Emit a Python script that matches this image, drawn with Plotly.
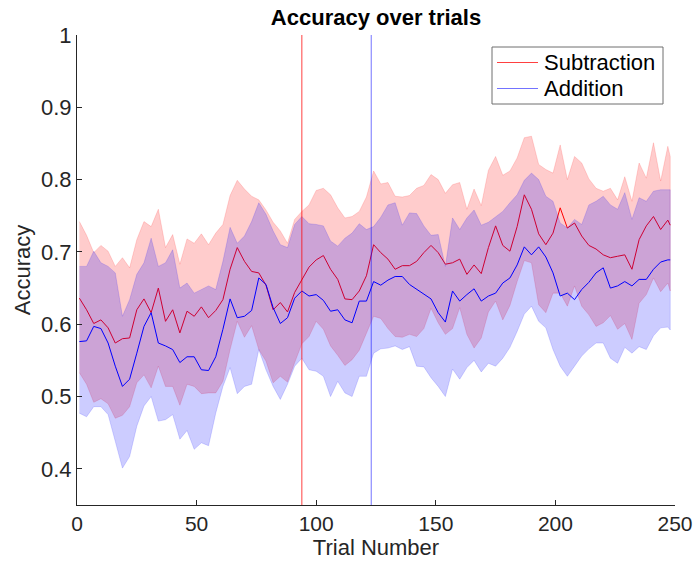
import plotly.graph_objects as go

trials = [1, 4, 7, 10, 13, 16, 19, 22, 25, 28, 31, 34, 37, 40, 43, 46, 49, 52, 55, 58, 61,
          64, 67, 70, 73, 76, 79, 82, 85, 88, 91, 94, 97, 100, 103, 106, 109, 112, 115, 118, 121, 124,
          127, 130, 133, 136, 139, 142, 145, 148, 151, 154, 157, 160, 163, 166, 169, 172, 175, 178, 181, 184, 187,
          190, 193, 196, 199, 202, 205, 208, 211, 214, 217, 220, 223, 226, 229, 232, 235, 238, 241, 244, 247, 248]

sub_upper = [0.742, 0.723, 0.699, 0.709, 0.701, 0.680, 0.692, 0.678, 0.717, 0.742, 0.735, 0.759, 0.706, 0.724, 0.683, 0.718, 0.712, 0.725, 0.710, 0.726, 0.738,
             0.778, 0.799, 0.787, 0.777, 0.772, 0.758, 0.741, 0.729, 0.712, 0.745, 0.756, 0.765, 0.785, 0.788, 0.779, 0.761, 0.747, 0.749, 0.756, 0.776, 0.812,
             0.794, 0.796, 0.777, 0.776, 0.778, 0.788, 0.792, 0.807, 0.800, 0.781, 0.793, 0.796, 0.759, 0.787, 0.764, 0.813, 0.832, 0.806, 0.812, 0.830, 0.858,
             0.860, 0.821, 0.814, 0.809, 0.848, 0.800, 0.832, 0.823, 0.801, 0.788, 0.784, 0.788, 0.772, 0.804, 0.770, 0.823, 0.802, 0.851, 0.798, 0.846, 0.832]
sub_mean = [0.636, 0.620, 0.601, 0.606, 0.595, 0.574, 0.580, 0.581, 0.620, 0.635, 0.616, 0.650, 0.604, 0.620, 0.588, 0.618, 0.611, 0.624, 0.609, 0.619, 0.634,
            0.676, 0.706, 0.687, 0.673, 0.671, 0.654, 0.620, 0.630, 0.617, 0.644, 0.662, 0.679, 0.689, 0.695, 0.676, 0.662, 0.635, 0.634, 0.646, 0.667, 0.710,
            0.699, 0.690, 0.676, 0.681, 0.681, 0.687, 0.699, 0.709, 0.699, 0.683, 0.685, 0.690, 0.669, 0.682, 0.670, 0.706, 0.736, 0.709, 0.701, 0.735, 0.779,
            0.759, 0.725, 0.710, 0.726, 0.761, 0.733, 0.740, 0.722, 0.709, 0.704, 0.696, 0.692, 0.694, 0.696, 0.676, 0.717, 0.736, 0.749, 0.731, 0.744, 0.737]
sub_lower = [0.533, 0.517, 0.492, 0.497, 0.490, 0.470, 0.474, 0.486, 0.519, 0.530, 0.512, 0.542, 0.514, 0.514, 0.488, 0.517, 0.514, 0.504, 0.505, 0.505, 0.521,
             0.565, 0.604, 0.582, 0.598, 0.565, 0.549, 0.519, 0.528, 0.520, 0.547, 0.573, 0.583, 0.604, 0.593, 0.570, 0.557, 0.543, 0.551, 0.564, 0.588, 0.611,
             0.608, 0.594, 0.583, 0.582, 0.586, 0.583, 0.594, 0.622, 0.602, 0.586, 0.594, 0.623, 0.586, 0.567, 0.581, 0.617, 0.632, 0.606, 0.626, 0.659, 0.688,
             0.685, 0.627, 0.616, 0.643, 0.643, 0.625, 0.653, 0.625, 0.613, 0.597, 0.602, 0.612, 0.593, 0.601, 0.579, 0.629, 0.641, 0.664, 0.645, 0.657, 0.646]

add_upper = [0.680, 0.680, 0.701, 0.685, 0.680, 0.671, 0.611, 0.634, 0.669, 0.685, 0.719, 0.680, 0.685, 0.703, 0.650, 0.657, 0.643, 0.648, 0.653, 0.648, 0.687,
             0.734, 0.712, 0.722, 0.742, 0.768, 0.752, 0.729, 0.710, 0.706, 0.738, 0.749, 0.739, 0.738, 0.736, 0.715, 0.708, 0.719, 0.726, 0.739, 0.731, 0.735,
             0.748, 0.765, 0.768, 0.737, 0.754, 0.753, 0.736, 0.723, 0.724, 0.680, 0.747, 0.731, 0.747, 0.758, 0.737, 0.741, 0.749, 0.756, 0.768, 0.779, 0.799,
             0.809, 0.800, 0.777, 0.770, 0.740, 0.733, 0.745, 0.738, 0.765, 0.770, 0.777, 0.765, 0.759, 0.782, 0.745, 0.775, 0.770, 0.784, 0.786, 0.786, 0.786]
add_mean = [0.576, 0.577, 0.597, 0.594, 0.574, 0.542, 0.514, 0.524, 0.560, 0.597, 0.616, 0.574, 0.570, 0.565, 0.547, 0.555, 0.555, 0.537, 0.536, 0.555, 0.593,
            0.635, 0.609, 0.611, 0.619, 0.664, 0.655, 0.623, 0.601, 0.609, 0.636, 0.646, 0.639, 0.641, 0.633, 0.618, 0.620, 0.606, 0.602, 0.632, 0.632, 0.659,
            0.654, 0.661, 0.666, 0.666, 0.655, 0.648, 0.641, 0.635, 0.616, 0.603, 0.646, 0.632, 0.641, 0.649, 0.632, 0.639, 0.643, 0.657, 0.664, 0.682, 0.707,
            0.696, 0.707, 0.693, 0.671, 0.639, 0.643, 0.634, 0.648, 0.658, 0.671, 0.678, 0.650, 0.653, 0.659, 0.653, 0.662, 0.662, 0.676, 0.686, 0.689, 0.689]
add_lower = [0.477, 0.472, 0.486, 0.486, 0.475, 0.438, 0.401, 0.417, 0.459, 0.487, 0.500, 0.466, 0.468, 0.475, 0.441, 0.453, 0.427, 0.436, 0.432, 0.477, 0.514,
             0.540, 0.504, 0.514, 0.517, 0.565, 0.537, 0.514, 0.496, 0.517, 0.542, 0.553, 0.537, 0.535, 0.528, 0.500, 0.521, 0.505, 0.500, 0.528, 0.528, 0.560,
             0.566, 0.567, 0.570, 0.565, 0.569, 0.542, 0.541, 0.526, 0.514, 0.500, 0.538, 0.524, 0.540, 0.550, 0.534, 0.546, 0.542, 0.553, 0.568, 0.590, 0.614,
             0.625, 0.604, 0.595, 0.565, 0.542, 0.528, 0.542, 0.556, 0.566, 0.574, 0.574, 0.553, 0.546, 0.568, 0.560, 0.569, 0.565, 0.584, 0.595, 0.596, 0.592]

sub_marker_trial = 94
add_marker_trial = 123

series_names = ["Subtraction", "Addition"]
x_ticks = [0, 50, 100, 150, 200, 250]
y_ticks = [0.4, 0.5, 0.6, 0.7, 0.8, 0.9, 1.0]
y_tick_text = ["0.4", "0.5", "0.6", "0.7", "0.8", "0.9", "1"]

FONT = "Liberation Sans, Arial, Helvetica, sans-serif"
AX = "#262626"
FS = 22
W, H = 693, 565
ML, MR, MT, MB = 77, 18, 35, 60
PW, PH = W - ML - MR, H - MT - MB
SUB_LINE = "rgba(255,0,0,0.75)"
ADD_LINE = "rgba(0,0,255,0.55)"


def px_x(p):
    return (p - ML) / PW


def px_y(p):
    return (H - MB - p) / PH


fig = go.Figure()

# Subtraction band + mean
fig.add_trace(go.Scatter(x=trials + trials[::-1], y=sub_upper + sub_lower[::-1],
                         fill="toself", fillcolor="rgba(255,0,0,0.2)",
                         line=dict(color="rgba(255,0,0,0.15)", width=1),
                         hoverinfo="skip", showlegend=False))
fig.add_trace(go.Scatter(x=trials, y=sub_mean, mode="lines", name=series_names[0],
                         line=dict(color="rgb(255,0,0)", width=1), showlegend=False))
# Addition band + mean
fig.add_trace(go.Scatter(x=trials + trials[::-1], y=add_upper + add_lower[::-1],
                         fill="toself", fillcolor="rgba(0,0,255,0.2)",
                         line=dict(color="rgba(0,0,255,0.15)", width=1),
                         hoverinfo="skip", showlegend=False))
fig.add_trace(go.Scatter(x=trials, y=add_mean, mode="lines", name=series_names[1],
                         line=dict(color="rgb(0,0,255)", width=1), showlegend=False))

# vertical markers
fig.add_vline(x=sub_marker_trial, line=dict(color=SUB_LINE, width=1), layer="above")
fig.add_vline(x=add_marker_trial, line=dict(color=ADD_LINE, width=1), layer="above")

# legend (drawn manually for MATLAB-like spacing)
fig.add_shape(type="rect", xref="paper", yref="paper",
              x0=px_x(492), x1=px_x(663), y0=px_y(104), y1=px_y(47),
              fillcolor="white", line=dict(color="#6e6e6e", width=1), layer="above")
for i, (name, col) in enumerate(zip(series_names, [SUB_LINE, ADD_LINE])):
    yc = 62.5 + i * 26
    fig.add_shape(type="line", xref="paper", yref="paper",
                  x0=px_x(497), x1=px_x(538), y0=px_y(yc), y1=px_y(yc),
                  line=dict(color=col, width=1), layer="above")
    fig.add_annotation(text=name, xref="paper", yref="paper", x=px_x(542), y=px_y(yc),
                       xanchor="left", yanchor="middle", showarrow=False,
                       font=dict(family=FONT, size=FS, color="black"))

fig.update_layout(
    width=W, height=H,
    margin=dict(l=ML, r=MR, t=MT, b=MB, autoexpand=False),
    paper_bgcolor="white", plot_bgcolor="white",
    font=dict(family=FONT, size=FS, color=AX),
    title=dict(text="<b>Accuracy over trials</b>", x=0.5, xref="paper",
               y=1 - 17 / H, yref="container", yanchor="middle",
               font=dict(family=FONT, size=FS, color="black")),
    showlegend=False,
)
fig.update_xaxes(range=[0, 250], tickvals=x_ticks, ticks="inside", ticklen=5, tickcolor=AX,
                 showline=True, linecolor=AX, linewidth=1, showgrid=False, zeroline=False,
                 automargin=False, ticklabeloverflow="allow",
                 title=dict(text="Trial Number", font=dict(size=FS, color=AX), standoff=4),
                 tickfont=dict(size=21, color=AX))
fig.update_yaxes(range=[0.35, 1], tickvals=y_ticks, ticktext=y_tick_text, ticks="inside",
                 ticklen=5, tickcolor=AX, showline=True, linecolor=AX, linewidth=1,
                 showgrid=False, zeroline=False, automargin=False, ticklabeloverflow="allow",
                 title=dict(text="Accuracy", font=dict(size=FS, color=AX), standoff=4),
                 tickfont=dict(size=FS, color=AX))

fig.write_html("out.html")
